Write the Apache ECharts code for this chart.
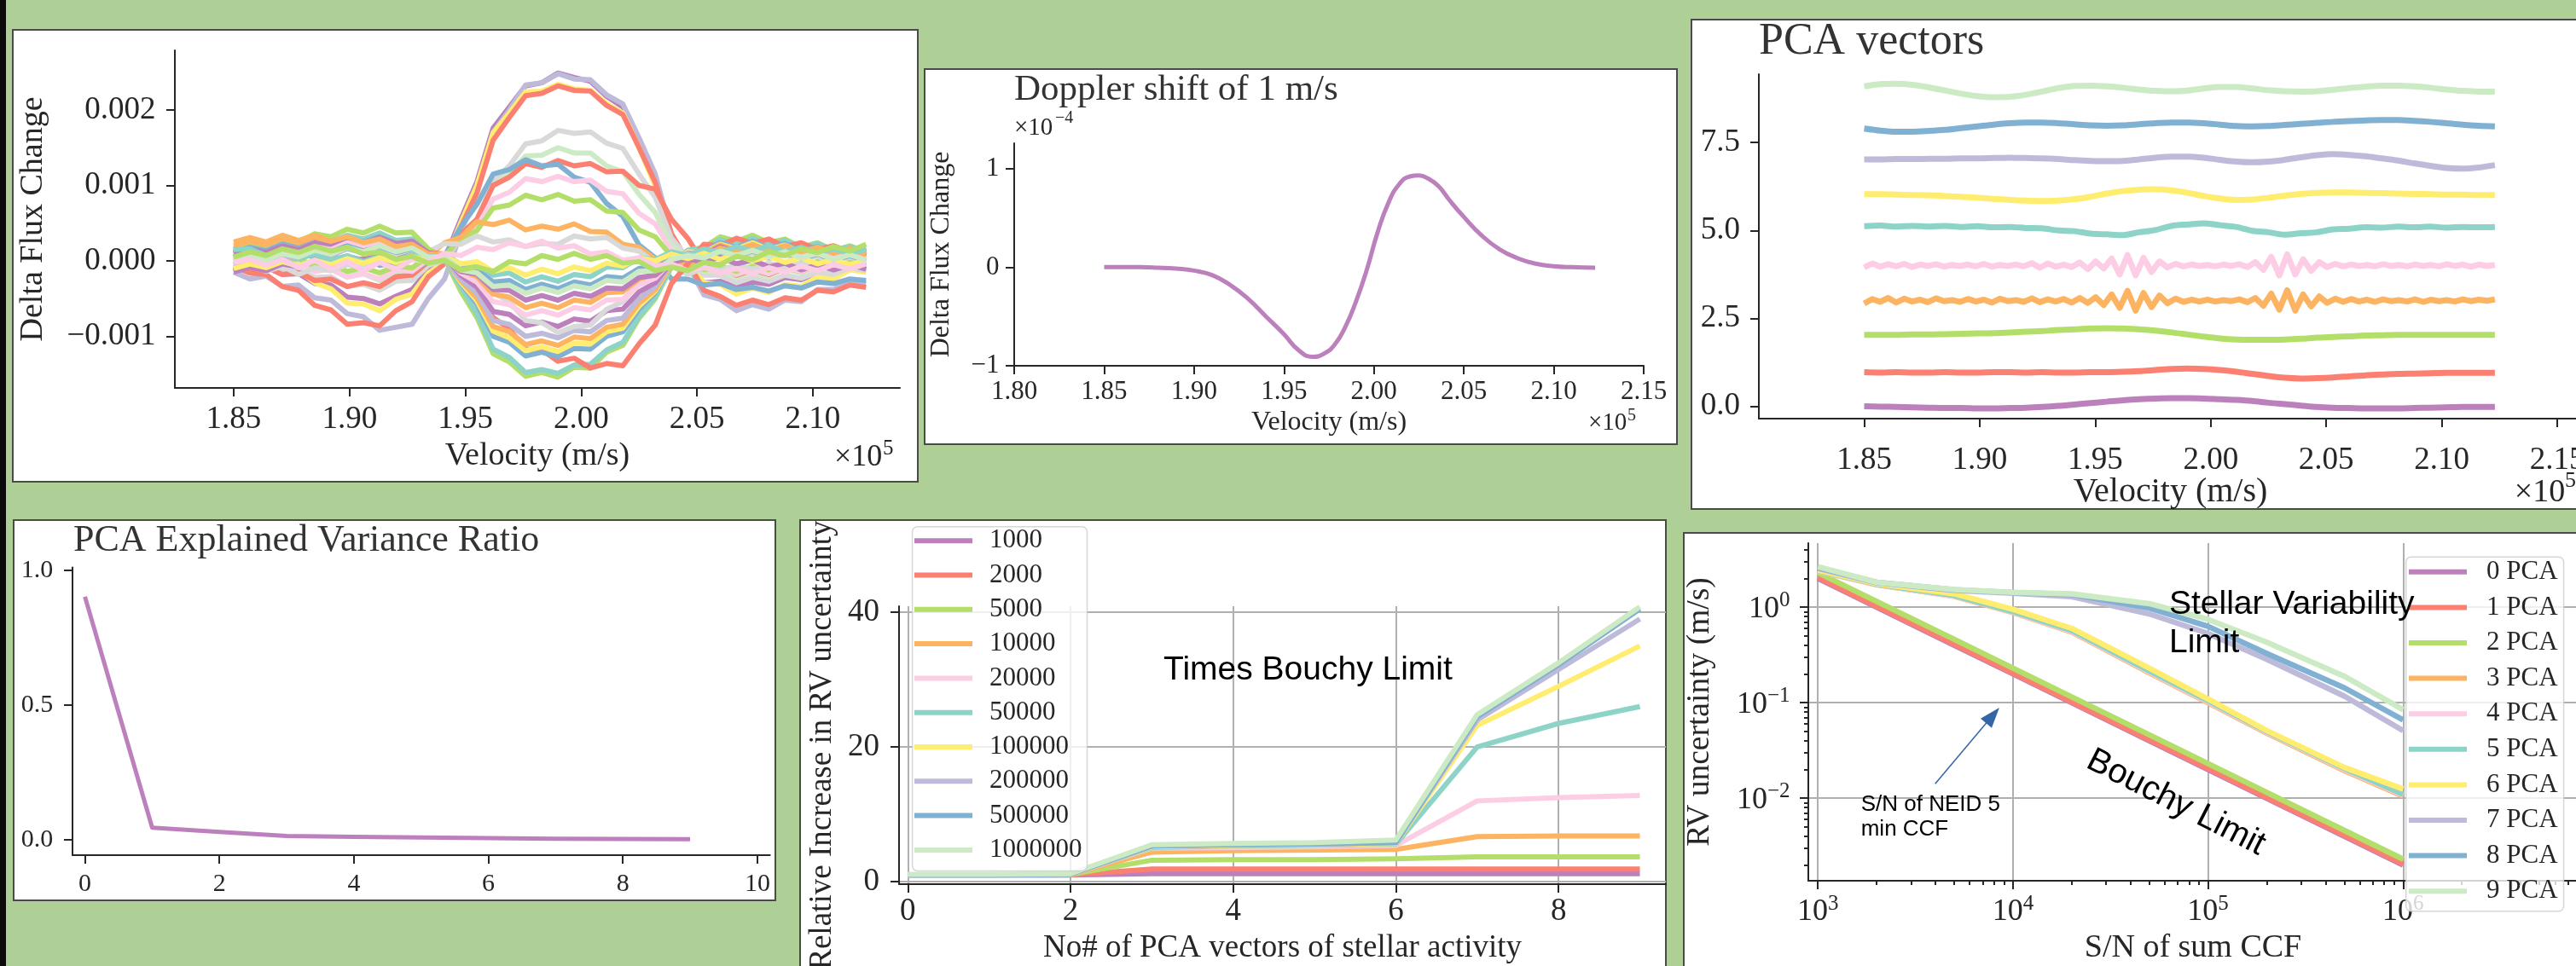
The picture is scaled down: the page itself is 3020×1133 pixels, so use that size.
<!DOCTYPE html>
<html><head><meta charset="utf-8">
<script src="https://cdn.jsdelivr.net/npm/echarts@6/dist/echarts.min.js"></script>
<style>html,body{margin:0;padding:0;background:#aed096;overflow:hidden}#c{width:3020px;height:1133px}</style>
</head><body><div id="c"></div>
<script>
// ---------------- DATA ----------------
// Panel 1: delta flux change curves (units of 1e-5), on velocity grid (x1e5 m/s)
const velGrid = [1.850,1.857,1.864,1.871,1.878,1.885,1.892,1.899,1.906,1.913,1.920,1.927,1.934,1.941,1.948,1.955,1.962,1.969,1.976,1.983,1.990,1.997,2.004,2.011,2.018,2.025,2.032,2.039,2.046,2.053,2.060,2.067,2.074,2.081,2.088,2.095,2.102,2.109,2.116,2.123];
const flux01 = [5,-6,-8,-18,-17,-30,-32,-48,-50,-57,-47,-38,-12,2,55,105,176,204,232,236,249,243,238,218,204,156,102,26,-8,-29,-27,-35,-28,-31,-22,-25,-16,-18,-10,-12];
const flux02 = [-15,-24,-20,-34,-32,-49,-52,-70,-74,-92,-88,-84,-50,-24,36,95,170,200,233,236,248,241,240,220,208,163,115,35,-5,-45,-51,-66,-58,-64,-52,-54,-38,-38,-27,-30];
const flux03 = [10,1,3,-12,-12,-29,-37,-56,-57,-66,-51,-44,-16,-2,50,100,170,196,224,225,234,228,226,208,196,150,99,25,-4,-29,-31,-44,-36,-42,-31,-34,-21,-24,-12,-15];
const flux04 = [-8,-16,-18,-34,-39,-59,-65,-84,-82,-86,-66,-54,-21,-4,44,90,160,190,219,222,232,226,225,206,194,150,104,36,-1,-39,-47,-59,-52,-58,-49,-52,-39,-41,-32,-35];
const flux05 = [0,-7,-4,-14,-11,-22,-21,-34,-31,-39,-27,-26,-6,1,30,55,105,126,155,159,173,169,171,156,149,115,84,30,4,-19,-19,-29,-22,-27,-19,-23,-15,-18,-9,-13];
const flux06 = [15,8,11,1,3,-9,-7,-19,-17,-26,-15,-14,4,8,35,55,100,116,139,140,150,143,143,126,118,88,64,21,4,-14,-12,-22,-15,-20,-11,-16,-7,-12,-3,-8];
const flux07 = [-5,-12,-8,-18,-15,-26,-24,-34,-29,-34,-21,-19,-1,4,35,55,100,111,129,124,133,126,129,118,119,100,95,55,30,-4,-6,-19,-12,-18,-9,-14,-5,-10,-2,-7];
const flux08 = [20,14,18,8,13,4,8,-2,3,-6,-2,-12,-1,6,45,75,115,121,134,126,128,111,104,76,59,21,4,-24,-24,-32,-30,-38,-35,-40,-33,-36,-28,-30,-24,-26];
const flux09 = [5,-2,3,-7,-3,-14,-11,-22,-17,-24,-12,-14,2,4,30,45,82,91,109,105,112,105,107,92,89,63,49,14,4,-12,-9,-18,-11,-17,-9,-14,-5,-11,-3,-8];
const flux10 = [10,4,8,-1,3,-7,-3,-14,-9,-16,-7,-9,6,6,30,40,70,74,87,81,88,79,81,66,64,41,32,6,2,-12,-7,-14,-7,-12,-3,-9,-1,-7,1,-5];
const flux11 = [15,21,17,26,22,29,19,22,9,12,2,9,6,24,31,52,48,54,41,46,42,49,39,38,22,18,2,3,-5,8,7,15,12,18,9,15,7,13,5,11];
const flux12 = [-10,-4,-14,-7,-18,-9,-13,-5,-8,3,2,13,12,23,22,33,25,28,19,23,22,33,29,31,17,13,-3,-7,-18,-9,-13,-5,-11,-3,-8,-2,-7,-1,-6,0];
const flux13 = [15,22,19,29,25,36,32,42,37,46,37,38,16,4,-40,-75,-123,-134,-153,-148,-154,-141,-142,-121,-112,-76,-50,-8,14,18,32,26,34,24,29,18,24,14,20,12];
const flux14 = [10,18,14,24,20,30,25,34,29,37,27,29,11,4,-34,-70,-117,-128,-148,-144,-149,-138,-137,-118,-108,-74,-48,-6,14,16,28,22,30,21,27,17,23,13,19,12];
const flux15 = [5,12,7,16,12,22,17,26,21,29,22,26,11,9,-16,-35,-75,-90,-117,-118,-133,-129,-142,-136,-139,-110,-85,-30,-4,22,20,30,23,29,19,24,15,20,12,17];
const flux16 = [12,18,13,22,17,26,21,30,25,32,23,26,8,4,-29,-57,-100,-108,-126,-121,-127,-116,-117,-100,-94,-64,-42,-4,12,12,24,18,26,17,23,13,19,9,15,8];
const flux17 = [8,14,10,20,15,24,19,28,22,30,21,24,8,4,-28,-53,-93,-102,-119,-114,-120,-109,-110,-94,-89,-60,-40,-4,12,11,22,16,24,15,21,11,17,8,14,7];
const flux18 = [20,26,21,30,24,32,25,32,24,30,21,24,8,4,-26,-49,-87,-94,-111,-106,-112,-101,-103,-88,-84,-56,-38,-4,10,10,21,14,22,13,20,11,18,9,17,9];
const flux19 = [-5,2,-3,7,3,12,7,16,11,19,11,16,2,2,-24,-43,-79,-84,-100,-96,-102,-92,-94,-79,-76,-50,-34,-2,10,8,18,11,19,10,16,6,12,3,9,1];
const flux20 = [10,16,11,20,15,24,19,28,23,31,23,26,10,7,-19,-35,-67,-71,-86,-81,-87,-77,-80,-66,-64,-41,-29,-1,10,8,19,12,20,11,18,9,16,7,14,6];
const flux21 = [0,6,1,10,5,14,9,18,12,19,10,14,1,4,-12,-16,-42,-54,-79,-82,-95,-87,-85,-64,-54,-26,-16,4,9,5,11,5,10,3,8,1,6,-1,5,-1];
const flux22 = [0,7,3,13,9,19,15,24,19,26,17,20,7,6,-16,-28,-54,-58,-72,-66,-72,-62,-65,-52,-51,-32,-23,0,8,6,15,9,16,8,14,6,12,4,10,3];
const flux23 = [25,31,25,34,27,34,26,32,24,29,19,22,9,9,-12,-21,-44,-48,-62,-56,-62,-52,-55,-42,-41,-24,-18,1,8,6,17,12,21,14,20,12,18,10,16,8];
const flux24 = [-15,-8,-13,-4,-8,1,-3,6,1,9,2,8,-1,2,-14,-18,-38,-39,-52,-46,-52,-43,-47,-36,-37,-22,-19,-2,3,-2,5,-4,1,-8,-3,-12,-5,-12,-5,-11];
const flux25 = [5,11,5,14,9,18,12,20,13,19,11,16,5,7,-9,-10,-28,-26,-38,-31,-37,-28,-32,-21,-23,-10,-10,4,8,4,13,6,13,5,11,3,9,1,7,0];
const flux26 = [15,16,7,12,3,9,1,7,-1,6,0,8,2,8,-4,-4,-19,-16,-28,-21,-27,-18,-21,-8,-9,4,2,12,7,16,11,19,13,20,12,18,10,16,9,15];
const flux27 = [-10,-4,-9,-1,-7,1,-5,3,-3,4,-2,6,0,6,-4,-1,-14,-9,-19,-11,-17,-8,-13,-3,-7,4,0,9,3,10,2,8,0,6,-2,4,-4,2,-5,1];
const flux28 = [0,6,1,10,5,14,9,18,12,20,12,17,5,6,-12,-16,-34,-32,-43,-36,-42,-33,-37,-26,-28,-14,-13,2,7,4,13,7,14,6,12,4,10,2,8,1];
const flux29 = [-2,2,-6,2,-9,1,-11,-1,-13,-2,-11,2,-1,10,7,18,15,24,19,26,17,20,9,12,1,4,-7,-4,-13,-8,-16,-10,-17,-9,-15,-7,-13,-5,-11,-4];
const flux30 = [5,12,7,16,11,19,13,18,9,12,2,6,-3,1,-12,-8,-14,-1,-4,7,2,10,2,7,-3,-1,-13,-8,-13,-2,-5,6,2,12,7,16,11,19,13,22];
const fluxColors = ['#bc80bd','#bebada','#ffed6f','#fb8072','#d9d9d9','#ccebc5','#fb8072','#80b1d3','#fccde5','#b3de69','#fdb462','#d9d9d9','#b3de69','#8dd3c7','#fb8072','#80b1d3','#ffed6f','#fdb462','#bebada','#bc80bd','#d9d9d9','#fccde5','#fdb462','#bc80bd','#80b1d3','#8dd3c7','#ffed6f','#ccebc5','#fccde5','#b3de69'];

// Panel 2: Doppler shift of 1 m/s (flux in units of 1e-4)
const dopplerVel = [1.850,1.860,1.870,1.880,1.890,1.900,1.910,1.920,1.930,1.940,1.950,1.958,1.966,1.972,1.978,1.984,1.990,1.996,2.002,2.008,2.014,2.020,2.025,2.030,2.036,2.042,2.050,2.060,2.070,2.080,2.090,2.100,2.110,2.123];
const dopplerFlux = [0,0,0,-0.005,-0.015,-0.035,-0.08,-0.18,-0.32,-0.50,-0.68,-0.84,-0.91,-0.88,-0.79,-0.61,-0.35,-0.03,0.35,0.65,0.84,0.92,0.93,0.90,0.82,0.68,0.51,0.32,0.18,0.09,0.035,0.01,0.0,-0.005];

// Panel 3: PCA vectors (offset for display)
const velFine = [1.8500,1.8535,1.8569,1.8604,1.8638,1.8673,1.8707,1.8742,1.8776,1.8811,1.8846,1.8880,1.8915,1.8949,1.8984,1.9018,1.9053,1.9087,1.9122,1.9157,1.9191,1.9226,1.9260,1.9295,1.9329,1.9364,1.9398,1.9433,1.9468,1.9502,1.9537,1.9571,1.9606,1.9640,1.9675,1.9709,1.9744,1.9778,1.9813,1.9848,1.9882,1.9917,1.9951,1.9986,2.0020,2.0055,2.0089,2.0124,2.0159,2.0193,2.0228,2.0262,2.0297,2.0331,2.0366,2.0400,2.0435,2.0470,2.0504,2.0539,2.0573,2.0608,2.0642,2.0677,2.0711,2.0746,2.0780,2.0815,2.0850,2.0884,2.0919,2.0953,2.0988,2.1022,2.1057,2.1091,2.1126,2.1161,2.1195,2.1230];
const pcaVec0 = [0.00,-0.01,-0.02,-0.03,-0.04,-0.05,-0.05,-0.06,-0.06,-0.05,-0.04,-0.02,0.01,0.05,0.09,0.13,0.17,0.20,0.22,0.23,0.23,0.22,0.20,0.18,0.15,0.10,0.06,0.02,-0.02,-0.04,-0.05,-0.06,-0.06,-0.06,-0.05,-0.04,-0.03,-0.02,-0.02,-0.02];
const pcaVec1 = [0.97,0.96,0.97,0.96,0.96,0.97,0.96,0.96,0.97,0.97,0.96,0.97,0.96,0.96,0.97,0.97,0.98,1.00,1.03,1.06,1.07,1.06,1.03,0.98,0.92,0.86,0.81,0.79,0.80,0.82,0.85,0.88,0.90,0.92,0.93,0.94,0.95,0.95,0.95,0.95];
const pcaVec2 = [2.03,2.03,2.03,2.04,2.04,2.05,2.06,2.07,2.08,2.10,2.12,2.14,2.17,2.19,2.21,2.22,2.21,2.19,2.15,2.10,2.04,1.98,1.93,1.90,1.89,1.89,1.90,1.92,1.95,1.97,1.99,2.01,2.02,2.03,2.03,2.03,2.03,2.03,2.03,2.03];
const pcaVec3 = [2.92,3.05,2.97,3.08,2.95,3.06,2.98,3.03,2.96,3.07,2.99,3.02,2.97,3.05,2.98,3.03,2.95,3.06,2.99,3.02,2.97,3.07,2.96,3.04,2.98,3.05,2.95,3.08,2.94,3.10,2.88,3.18,2.80,3.28,2.72,3.22,2.82,3.15,2.93,3.06,2.97,3.03,2.98,3.03,2.98,3.02,2.99,3.04,2.96,3.08,2.86,3.20,2.75,3.30,2.72,3.18,2.84,3.12,2.94,3.06,2.97,3.05,2.98,3.03,2.97,3.04,2.99,3.02,2.98,3.04,2.97,3.03,2.99,3.02,2.98,3.04,2.99,3.03,3.00,3.04];
const pcaVec4 = [3.95,4.06,3.97,4.04,3.98,4.05,3.96,4.03,3.99,4.04,3.97,4.02,3.99,4.03,3.98,4.05,3.97,4.02,3.99,4.03,3.98,4.07,3.94,4.06,3.97,4.03,3.96,4.09,3.90,4.12,3.92,4.20,3.75,4.30,3.72,4.22,3.82,4.12,3.95,4.05,3.98,4.03,3.99,4.02,3.98,4.03,3.99,4.04,3.96,4.10,3.88,4.25,3.72,4.32,3.75,4.18,3.85,4.10,3.96,4.05,3.98,4.03,3.99,4.02,3.98,4.04,3.99,4.02,3.98,4.03,3.99,4.02,3.98,4.04,3.99,4.03,3.97,4.03,3.99,4.02];
const pcaVec5 = [5.12,5.14,5.11,5.13,5.11,5.13,5.10,5.12,5.09,5.10,5.07,5.06,5.00,4.98,4.91,4.89,4.87,4.95,5.01,5.13,5.17,5.20,5.15,5.10,4.99,4.95,4.88,4.92,4.95,5.03,5.05,5.09,5.08,5.11,5.09,5.11,5.08,5.10,5.09,5.10];
const pcaVec6 = [6.03,6.03,6.02,6.01,6.00,5.98,5.96,5.93,5.90,5.87,5.85,5.84,5.85,5.89,5.96,6.05,6.12,6.16,6.17,6.14,6.07,5.98,5.91,5.87,5.88,5.93,5.99,6.04,6.07,6.08,6.08,6.07,6.06,6.05,6.04,6.03,6.02,6.02,6.01,6.01];
const pcaVec7 = [7.02,7.02,7.03,7.03,7.04,7.04,7.05,7.05,7.06,7.07,7.06,7.05,7.03,7.00,6.98,6.97,6.98,7.02,7.07,7.10,7.10,7.07,7.01,6.96,6.94,6.96,7.01,7.08,7.14,7.17,7.15,7.11,7.05,6.99,6.91,6.84,6.78,6.76,6.79,6.86];
const pcaVec8 = [7.90,7.84,7.81,7.81,7.83,7.86,7.91,7.96,8.01,8.05,8.07,8.07,8.05,8.02,7.99,7.98,7.99,8.02,8.05,8.07,8.07,8.05,8.01,7.97,7.96,7.97,8.00,8.03,8.06,8.09,8.11,8.13,8.14,8.14,8.12,8.09,8.05,8.01,7.98,7.96];
const pcaVec9 = [9.10,9.16,9.17,9.14,9.07,8.98,8.89,8.82,8.79,8.80,8.86,8.95,9.05,9.11,9.12,9.10,9.06,9.01,8.97,8.96,8.98,9.04,9.08,9.08,9.04,8.99,8.96,8.95,8.96,9.00,9.05,9.09,9.12,9.12,9.10,9.06,9.01,8.97,8.95,8.95];
const pcaColors = ['#bc80bd','#fb8072','#b3de69','#fdb462','#fccde5','#8dd3c7','#ffed6f','#bebada','#80b1d3','#ccebc5'];

// Panel 4: explained variance ratio
const varIndex = [0,1,2,3,4,5,6,7,8,9];
const varRatio = [0.902,0.044,0.028,0.013,0.010,0.008,0.005,0.003,0.002,0.001];

// Panel 5: relative increase in RV uncertainty (times Bouchy limit), by S/N
const pcaCount = [0,1,2,3,4,5,6,7,8,9];
const snrNames = ['1000','2000','5000','10000','20000','50000','100000','200000','500000','1000000'];
const rel1000    = [1.0,1.0,1.0,1.2,1.2,1.2,1.2,1.2,1.2,1.2];
const rel2000    = [1.0,1.0,1.0,1.9,1.9,1.9,1.9,1.9,1.9,1.9];
const rel5000    = [1.0,1.0,1.05,3.2,3.3,3.3,3.4,3.7,3.7,3.7];
const rel10000   = [1.0,1.0,1.1,4.4,4.6,4.7,4.8,6.7,6.8,6.8];
const rel20000   = [1.0,1.0,1.1,5.0,5.1,5.2,5.4,12.0,12.5,12.8];
const rel50000   = [1.0,1.0,1.1,5.1,5.3,5.4,5.6,20.0,23.5,26.0];
const rel100000  = [1.0,1.0,1.1,5.2,5.4,5.5,5.7,23.2,29.0,35.0];
const rel200000  = [1.0,1.0,1.1,5.3,5.5,5.6,5.8,24.0,31.5,39.0];
const rel500000  = [1.0,1.0,1.1,5.3,5.5,5.6,5.8,24.5,32.2,40.5];
const rel1000000 = [1.1,1.1,1.2,5.5,5.7,5.8,6.2,24.8,32.5,40.8];

// Panel 6: RV uncertainty (m/s) vs S/N of sum CCF
const snrValues = [1000,2000,5000,10000,20000,50000,100000,200000,500000,1000000];
const pcaNames = ['0 PCA','1 PCA','2 PCA','3 PCA','4 PCA','5 PCA','6 PCA','7 PCA','8 PCA','9 PCA'];
const rv0pca = [2.0,1.0,0.4,0.2,0.1,0.04,0.02,0.01,0.004,0.002];
const rv1pca = [2.05,1.02,0.41,0.205,0.102,0.041,0.0205,0.0102,0.0041,0.00205];
const rv2pca = [2.3,1.15,0.46,0.23,0.115,0.046,0.023,0.0115,0.0046,0.0023];
const rv3pca = [2.4,1.72,1.3,0.88,0.55,0.205,0.1,0.048,0.0195,0.0105];
const rv4pca = [2.4,1.73,1.31,0.89,0.56,0.21,0.102,0.049,0.02,0.0108];
const rv5pca = [2.42,1.74,1.33,0.9,0.57,0.215,0.105,0.05,0.0205,0.011];
const rv6pca = [2.45,1.76,1.38,0.95,0.6,0.23,0.109,0.051,0.021,0.0125];
const rv7pca = [2.55,1.8,1.5,1.4,1.29,0.85,0.53,0.285,0.117,0.051];
const rv8pca = [2.6,1.82,1.52,1.42,1.36,0.98,0.63,0.327,0.143,0.066];
const rv9pca = [2.65,1.82,1.53,1.43,1.38,1.09,0.745,0.43,0.189,0.0845];
// annotation arrow (data coords): tail and head centre
const arrowTail = [3994, 0.01418];
const arrowHead = [7878, 0.0736];

// ---------------- STYLE / HELPERS ----------------
const INK = '#262626';
const SERIF = "'Liberation Serif','Times New Roman',serif";
const SANS = "'Liberation Sans',Arial,sans-serif";
const GRIDC = '#b0b0b0';
const zip = (xs, ys) => ys.map((y, i) => [xs[i], y]);
const fx2 = v => v.toFixed(2);
const fx1 = v => v.toFixed(1);
const fint = v => String(v);
const fsign = v => (v < 0 ? '\u2212' + (-v) : String(v));
const fluxFmt = v => (v < 0 ? '\u2212' : '') + (Math.abs(v) / 1e5).toFixed(3);
const supLabel = v => { const e = Math.round(Math.log10(v)); return '{m|10}{s|' + (e < 0 ? '\u2212' + (-e) : e) + '}'; };
const supRich = {
  m: {fontFamily: SERIF, fontSize: 36, color: INK, lineHeight: 40, verticalAlign: 'bottom'},
  s: {fontFamily: SERIF, fontSize: 25, color: INK, lineHeight: 40, verticalAlign: 'top'}
};

function mkAxis(o) {
  const a = {
    type: o.type || 'value',
    gridIndex: o.grid,
    position: o.position,
    min: o.min, max: o.max,
    silent: true,
    axisLine: {show: o.line !== false, onZero: false, lineStyle: {color: INK, width: 2}},
    axisTick: {show: true, inside: false, length: o.tickLen || 10, customValues: o.ticks, lineStyle: {color: INK, width: 2}},
    axisLabel: {show: o.labels !== false, customValues: o.ticks, formatter: o.fmt, margin: o.margin || 8,
      color: INK, fontFamily: SERIF, fontSize: o.fs || 30, lineHeight: o.fs || 30, rich: o.rich, hideOverlap: false},
    splitLine: {show: !!o.split, lineStyle: {color: GRIDC, width: 2}},
    minorTick: {show: false}, minorSplitLine: {show: false}
  };
  if (o.type === 'log') a.logBase = 10;
  if (o.name) {
    a.name = o.name; a.nameLocation = 'middle'; a.nameGap = o.nameGap; a.nameMoveOverlap = false;
    a.nameTextStyle = {fontFamily: SERIF, fontSize: o.nameFs, color: INK, lineHeight: o.nameFs};
  }
  return a;
}
function line(name, xi, yi, data, color, width, smooth) {
  return {type: 'line', name, xAxisIndex: xi, yAxisIndex: yi, data, symbol: 'none', showSymbol: false,
    smooth: smooth || false, silent: true, animation: false, itemStyle: {color},
    lineStyle: {color, width, cap: 'butt', join: 'round'}, emphasis: {disabled: true}, z: 2};
}
function txt(text, x, y, fs, o) {
  o = o || {};
  const font = fs + 'px ' + (o.family || SERIF);
  return {type: 'text', x, y, rotation: o.rot || 0, z: 100, silent: true,
    style: {text, x: 0, y: 0, fill: o.color || INK, font, align: o.align || 'left', verticalAlign: 'middle',
      textAlign: o.align || 'left', textVerticalAlign: 'middle'}};
}
function box(x, y, w, h) {
  return {type: 'rect', z: -100, silent: true, shape: {x, y, width: w, height: h},
    style: {fill: '#ffffff', stroke: '#4a4a4a', lineWidth: 2}};
}

// ---------------- SERIES ----------------
const series = [];
const fluxCurves = [flux01,flux02,flux03,flux04,flux05,flux06,flux07,flux08,flux09,flux10,flux11,flux12,flux13,flux14,flux15,flux16,flux17,flux18,flux19,flux20,flux21,flux22,flux23,flux24,flux25,flux26,flux27,flux28,flux29,flux30];
fluxCurves.forEach((c, i) => series.push(line('flux' + (i + 1), 0, 0, zip(velGrid, c), fluxColors[i], 6)));
series.push(line('doppler', 1, 1, zip(dopplerVel, dopplerFlux), '#bc80bd', 5, true));
const pcaVecs = [pcaVec0,pcaVec1,pcaVec2,pcaVec3,pcaVec4,pcaVec5,pcaVec6,pcaVec7,pcaVec8,pcaVec9];
pcaVecs.forEach((v, i) => {
  const xs = v.length === velFine.length ? velFine : velGrid;
  series.push(line('vec' + i, 2, 2, zip(xs, v), pcaColors[i], 7, xs === velGrid ? 0.3 : false));
});
series.push(line('variance', 3, 3, zip(varIndex, varRatio), '#bc80bd', 5));
const relSeries = [rel1000,rel2000,rel5000,rel10000,rel20000,rel50000,rel100000,rel200000,rel500000,rel1000000];
relSeries.forEach((r, i) => series.push(line(snrNames[i], 4, 4, zip(pcaCount, r), pcaColors[i], 6)));
const rvSeries = [rv0pca,rv1pca,rv2pca,rv3pca,rv4pca,rv5pca,rv6pca,rv7pca,rv8pca,rv9pca];
rvSeries.forEach((r, i) => {
  const s = line(pcaNames[i], 5, 5, zip(snrValues, r), pcaColors[i], 6.5);
  if (i === 0) {
    s.markLine = {silent: true, animation: false, symbol: ['none', 'triangle'], symbolSize: [17, 24],
      label: {show: false}, lineStyle: {color: '#3465a4', width: 1.5, type: 'solid'},
      itemStyle: {color: '#3465a4'}, emphasis: {disabled: true},
      data: [[{coord: arrowTail}, {coord: arrowHead}]]};
  }
  series.push(s);
});

const minorX = [2e3,3e3,4e3,5e3,6e3,7e3,8e3,9e3,2e4,3e4,4e4,5e4,6e4,7e4,8e4,9e4,2e5,3e5,4e5,5e5,6e5,7e5,8e5,9e5,2e6,3e6,4e6,5e6,6e6,7e6];
const minorY = [0.002,0.003,0.004,0.005,0.006,0.007,0.008,0.009,0.02,0.03,0.04,0.05,0.06,0.07,0.08,0.09,0.2,0.3,0.4,0.5,0.6,0.7,0.8,0.9,2,3,4];

const grids = [
  {left: 205, top: 59, width: 850, height: 396},
  {left: 1189, top: 168, width: 738, height: 261},
  {left: 2062, top: 87, width: 965, height: 404},
  {left: 85, top: 665.5, width: 817.7, height: 337.5},
  {left: 1054, top: 711, width: 899, height: 326},
  {left: 2120, top: 637, width: 902, height: 396}
].map(g => Object.assign({show: false, containLabel: false, outerBoundsMode: 'none'}, g));

const xAxis = [
  mkAxis({grid: 0, position: 'bottom', min: 1.8246, max: 2.1376, ticks: [1.85,1.90,1.95,2.00,2.05,2.10], fmt: fx2, fs: 37, margin: 19, name: 'Velocity (m/s)', nameGap: 60.6, nameFs: 38}),
  mkAxis({grid: 1, position: 'bottom', min: 1.80, max: 2.15, ticks: [1.80,1.85,1.90,1.95,2.00,2.05,2.10,2.15], fmt: fx2, fs: 31, margin: 15.7, name: 'Velocity (m/s)', nameGap: 50.8, nameFs: 32}),
  mkAxis({grid: 2, position: 'bottom', min: 1.8044, max: 2.1607, ticks: [1.85,1.90,1.95,2.00,2.05,2.10,2.15], fmt: fx2, fs: 37, margin: 31, name: 'Velocity (m/s)', nameGap: 66.4, nameFs: 40}),
  mkAxis({grid: 3, position: 'bottom', min: -0.185, max: 10.188, ticks: [0,2,4,6,8,10], fmt: fint, fs: 30, margin: 18.8}),
  mkAxis({grid: 4, position: 'bottom', min: -0.108, max: 9.32, ticks: [0,2,4,6,8], fmt: fint, fs: 37, margin: 13.6, split: true, name: 'No# of PCA vectors of stellar activity', nameGap: 56.9, nameFs: 37}),
  mkAxis({grid: 5, position: 'bottom', type: 'log', min: 893.3, max: 7852356, ticks: [1e3,1e4,1e5,1e6], fmt: supLabel, rich: supRich, fs: 36, margin: 14.5, split: true, name: 'S/N of sum CCF', nameGap: 60.1, nameFs: 38}),
  mkAxis({grid: 5, position: 'bottom', type: 'log', min: 893.3, max: 7852356, ticks: minorX, line: false, labels: false, tickLen: 5})
];
const yAxis = [
  mkAxis({grid: 0, position: 'left', min: -168.4, max: 279.1, ticks: [-100,0,100,200], fmt: fluxFmt, fs: 37, margin: 22.5, name: 'Delta Flux Change', nameGap: 147, nameFs: 38}),
  mkAxis({grid: 1, position: 'left', min: -1, max: 1.257, ticks: [-1,0,1], fmt: fsign, fs: 31, margin: 17.4, name: 'Delta Flux Change', nameGap: 69, nameFs: 32}),
  mkAxis({grid: 2, position: 'left', min: -0.352, max: 9.445, ticks: [0,2.5,5,7.5], fmt: fx1, fs: 37, margin: 22}),
  mkAxis({grid: 3, position: 'left', min: -0.058, max: 1.011, ticks: [0,0.5,1], fmt: fx1, fs: 30, margin: 22.7}),
  mkAxis({grid: 4, position: 'left', min: -0.354, max: 40.9, ticks: [0,20,40], fmt: fint, fs: 37, margin: 23, split: true, name: 'Relative Increase in RV uncertainty', nameGap: 71, nameFs: 37}),
  mkAxis({grid: 5, position: 'left', type: 'log', min: 0.001368, max: 4.683, ticks: [0.01,0.1,1], fmt: supLabel, rich: supRich, fs: 36, margin: 21.4, split: true, name: 'RV uncertainty (m/s)', nameGap: 108, nameFs: 37.5}),
  mkAxis({grid: 5, position: 'left', type: 'log', min: 0.001368, max: 4.683, ticks: minorY, line: false, labels: false, tickLen: 5})
];

const legendCommon = {orient: 'vertical', icon: 'rect', itemWidth: 68, itemHeight: 6, selectedMode: false,
  backgroundColor: 'rgba(255,255,255,0.8)', borderColor: 'rgba(204,204,204,0.8)', borderWidth: 1.5, borderRadius: 6, z: 10};
const legend = [
  Object.assign({}, legendCommon, {data: snrNames, left: 1069.6, top: 617.7, itemGap: 9.3, padding: [1, 6, 9, 2.4],
    textStyle: {fontFamily: SERIF, fontSize: 31, color: INK, lineHeight: 31, padding: [0, 0, 0, 15]}}),
  Object.assign({}, legendCommon, {data: pcaNames, left: 2820.7, top: 653.3, itemGap: 10.6, padding: [2, 7, 8, 3.3],
    textStyle: {fontFamily: SERIF, fontSize: 31, color: INK, lineHeight: 31, padding: [0, 0, 0, 18]}})
];

const graphics = [
  {type: 'rect', z: -100, silent: true, shape: {x: 0, y: 0, width: 7, height: 1133}, style: {fill: '#0a0a0a'}},
  box(15, 35, 1061, 530), box(1084, 81, 882, 440), box(1983, 23, 1050, 574),
  box(16, 610, 893, 446), box(938, 610, 1015, 540), box(1974, 625, 1060, 520),
  txt('Doppler shift of 1 m/s', 1189, 105.4, 43, {color: '#333'}),
  txt('PCA vectors', 2062, 49.3, 52, {color: '#333'}),
  txt('PCA Explained Variance Ratio', 86, 634, 44, {color: '#333'}),
  txt('\u00d710', 978, 536.8, 36), txt('5', 1035, 526, 25),
  txt('\u00d710', 1862, 496.8, 29), txt('5', 1908, 487.5, 20),
  txt('\u00d710', 1189, 150.1, 29), txt('\u22124', 1237, 139, 20),
  txt('\u00d710', 2947.7, 578.4, 38), txt('5', 3007, 564, 26),
  txt('Times Bouchy Limit', 1364, 785.9, 39, {family: SANS, color: '#000'}),
  txt('Stellar Variability', 2543, 709.7, 39, {family: SANS, color: '#000'}),
  txt('Limit', 2543, 754.7, 39, {family: SANS, color: '#000'}),
  txt('Bouchy Limit', 2551, 941.5, 40, {family: SANS, color: '#000', align: 'center', rot: -0.4712}),
  txt('S/N of NEID 5', 2181.7, 944.3, 26, {family: SANS, color: '#000'}),
  txt('min CCF', 2181.7, 972.7, 26, {family: SANS, color: '#000'})
];

const chart = echarts.init(document.getElementById('c'), null, {renderer: 'canvas', width: 3020, height: 1133});
chart.setOption({
  backgroundColor: '#aed096',
  animation: false,
  tooltip: {show: false},
  grid: grids, xAxis, yAxis, legend, series,
  graphic: {elements: graphics}
});
</script></body></html>
